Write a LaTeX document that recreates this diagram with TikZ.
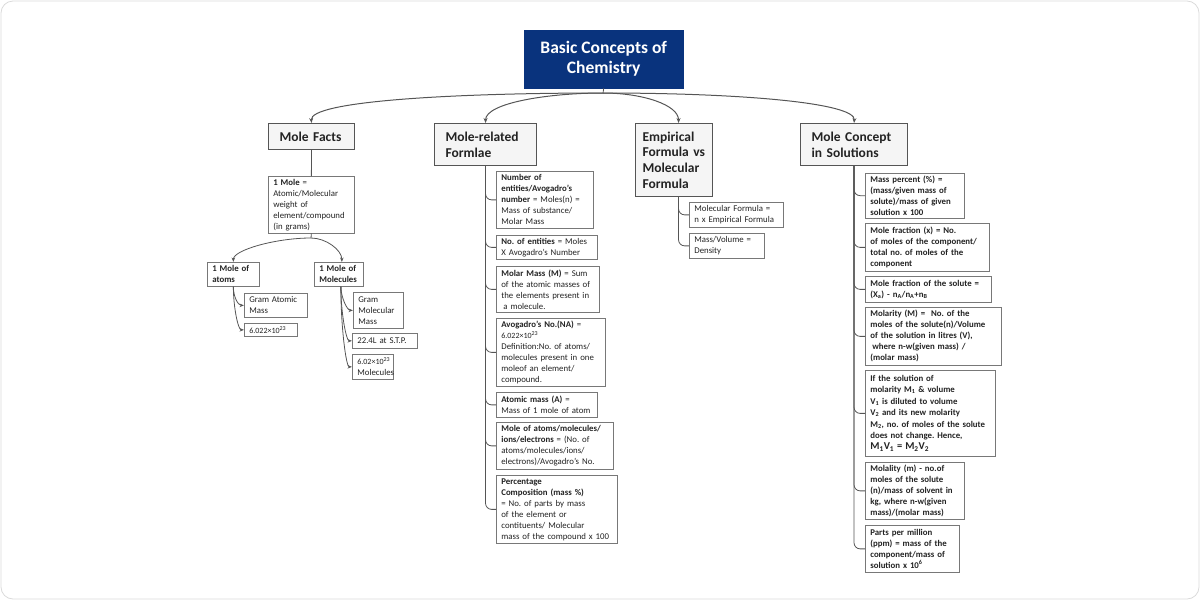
\documentclass[tikz,border=0pt]{standalone}
\usepackage{fontspec}
\setmainfont{Carlito}
\usepackage{tikz}
\usetikzlibrary{
	arrows.meta,
	positioning
}
\definecolor{TitleBlue}{RGB}{9,51,125}
\definecolor{LineGray}{RGB}{85,85,85}
\definecolor{LeafGray}{RGB}{120,120,120}
\definecolor{HeadFill}{RGB}{245,245,245}
\definecolor{TextGray}{RGB}{35,35,35}
\definecolor{FrameGray}{RGB}{218,218,218}

\tikzset{
	title/.style={draw=TitleBlue, fill=TitleBlue, text=white, align=center, anchor=north west,
		font=\fontsize{17.5}{20}\selectfont\bfseries, minimum width=159pt, minimum height=58pt},
	head/.style={draw=LineGray, fill=HeadFill, text=TextGray, line width=1.1pt, align=left,
		anchor=north west, inner xsep=11pt, inner ysep=4pt, font=\fontsize{13.5}{15.7}\selectfont\bfseries},
	leaf/.style={draw=LeafGray, fill=white, text=TextGray, line width=0.7pt, align=left,
		anchor=north west, inner xsep=5pt, inner ysep=2.5pt, font=\fontsize{8.8}{11}\selectfont},
	boldleaf/.style={leaf, font=\fontsize{8.8}{11}\selectfont\bfseries},
	link/.style={draw=LineGray, line width=0.8pt},
	arr/.style={link, -{Stealth[length=4.5pt,width=3.5pt]}},
	bigarr/.style={draw=LineGray, line width=1pt, -{Stealth[length=5pt,width=4pt]}}
}
\newcommand{\smallnum}{\fontsize{8}{11}\selectfont}
\frenchspacing

\begin{document}
\begin{tikzpicture}[x=1pt,y=-1pt]
	\useasboundingbox (0,0) rectangle (1200,600);
	\draw[FrameGray, line width=0.8pt, rounded corners=12pt] (1,1) rectangle (1199,599);

	\node[title] (root) at (524,30) {Basic Concepts of\\Chemistry};

	\node[head, text width=64pt, minimum height=26pt] (mf) at (268,123) {Mole Facts};
	\node[head, text width=80pt, minimum height=42pt] (mr) at (434,123) {Mole-related\\Formlae};
	\node[head, text width=63pt, inner xsep=7pt, minimum height=73pt] (em) at (635,123) {Empirical\\Formula vs\\Molecular\\Formula};
	\node[head, text width=85pt, minimum height=42pt] (ms) at (800,123) {Mole Concept\\in Solutions};

	\coordinate (rj) at (603,93);
	\draw[link] (root.south) -- (rj);
	\draw[bigarr] (rj) to[out=180,in=95,out distance=150pt,in distance=22pt] (mf.north);
	\draw[bigarr] (rj) to[out=180,in=90,out distance=55pt,in distance=20pt] (mr.north);
	\draw[bigarr] (rj) to[out=0,in=90,out distance=40pt,in distance=18pt] ([xshift=4.5pt]em.north);
	\draw[bigarr] (rj) to[out=0,in=85,out distance=140pt,in distance=20pt] (ms.north);

	% Mole Facts
	\node[leaf, text width=76pt, minimum height=57pt] (om) at (268,176)
		{\textbf{1 Mole} =\\Atomic/Molecular\\weight of\\element/compound\\(in grams)};
	\node[boldleaf, text width=42pt, minimum height=24pt] (at) at (207,262) {1 Mole of\\atoms};
	\node[boldleaf, text width=39pt, minimum height=24pt] (mo) at (314,262) {1 Mole of\\Molecules};
	\node[leaf, text width=53pt, minimum height=24pt] (gam) at (244,293) {Gram Atomic\\Mass};
	\node[leaf, text width=43pt, minimum height=13pt, inner ysep=1pt] (naA) at (244,323) {\smallnum 6.022×10\textsuperscript{23}};
	\node[leaf, text width=40pt, minimum height=36pt] (gmm) at (353,292) {Gram\\Molecular\\Mass};
	\node[leaf, text width=55pt, minimum height=15pt, inner ysep=1pt] (stp) at (352,333) {22.4L at S.T.P.};
	\node[leaf, text width=31pt, minimum height=25pt, inner ysep=1pt] (naM) at (352,354) {{\smallnum 6.02×10\textsuperscript{23}}\\Molecules};

	\coordinate (oj) at (311,238);
	\draw[link] (mf.south) -- (om.north);
	\draw[link] (om.south) -- (oj);
	\draw[arr] (oj) to[out=180,in=90,out distance=35pt,in distance=12pt] (at.north);
	\draw[arr] (oj) to[out=0,in=90,out distance=15pt,in distance=12pt] ([xshift=3pt]mo.north);
	\draw[arr] (at.south) to[out=-90,in=180,out distance=10pt,in distance=6pt] (gam.west);
	\draw[arr] (at.south) to[out=-90,in=180,out distance=20pt,in distance=6pt] (naA.west);
	\draw[arr] ([xshift=2pt]mo.south) to[out=-90,in=180,out distance=10pt,in distance=6pt] (gmm.west);
	\draw[arr] ([xshift=2pt]mo.south) to[out=-90,in=180,out distance=25pt,in distance=6pt] (stp.west);
	\draw[arr] ([xshift=2pt]mo.south) to[out=-90,in=180,out distance=40pt,in distance=6pt] (naM.west);

	% Mole-related Formlae
	\node[leaf, text width=87pt, minimum height=57pt] (c1) at (496,171)
		{\textbf{Number of}\\\textbf{entities/Avogadro's}\\\textbf{number} = Moles(n) =\\Mass of substance/\\Molar Mass};
	\node[leaf, text width=91pt, minimum height=24pt] (c2) at (496,235)
		{\textbf{No. of entities} = Moles\\X Avogadro's Number};
	\node[leaf, text width=93pt, minimum height=46pt] (c3) at (496,266)
		{\textbf{Molar Mass (M)} = Sum\\of the atomic masses of\\the elements present in\\\hspace*{2pt}a molecule.};
	\node[leaf, text width=99pt, minimum height=68pt] (c4) at (496,318)
		{\textbf{Avogadro's No.(NA)} =\\{\smallnum 6.022×10\textsuperscript{23}}\\Definition:No. of atoms/\\molecules present in one\\moleof an element/\\compound.};
	\node[leaf, text width=91pt, minimum height=25pt] (c5) at (496,392)
		{\textbf{Atomic mass (A)} =\\Mass of 1 mole of atom};
	\node[leaf, text width=107pt, minimum height=47pt] (c6) at (496,422)
		{\textbf{Mole of atoms/molecules/}\\\textbf{ions/electrons} = (No. of\\atoms/molecules/ions/\\electrons)/Avogadro's No.};
	\node[leaf, text width=111pt, minimum height=68pt] (c7) at (496,475)
		{\textbf{Percentage}\\\textbf{Composition (mass \%)}\\= No. of parts by mass\\of the element or\\contituents/ Molecular\\mass of the compound x 100};

	\foreach \c in {c1,c2,c3,c4,c5,c6,c7}
		\draw[link, rounded corners=6pt] (mr.south) |- (\c.west);

	% Empirical Formula vs Molecular Formula
	\node[leaf, text width=84pt, minimum height=25pt] (e1) at (689,202)
		{Molecular Formula =\\n x Empirical Formula};
	\node[leaf, text width=65pt, minimum height=25pt] (e2) at (689,233)
		{Mass/Volume =\\Density};

	\foreach \e in {e1,e2}
		\draw[link, rounded corners=6pt] ([xshift=4.5pt]em.south) |- (\e.west);

	% Mole Concept in Solutions
	\node[boldleaf, text width=89pt, minimum height=44pt] (s1) at (865,173)
		{Mass percent (\%) =\\(mass/given mass of\\solute)/mass of given\\solution x 100};
	\node[boldleaf, text width=114pt, minimum height=48pt] (s2) at (865,223)
		{Mole fraction (x) = No.\\of moles of the component/\\total no. of moles of the\\component};
	\node[boldleaf, text width=116pt, minimum height=26pt] (s3) at (865,276)
		{Mole fraction of the solute =\\(X\textsubscript{a}) - n\textsubscript{A}/n\textsubscript{A}+n\textsubscript{B}};
	\node[boldleaf, text width=126pt, minimum height=58pt] (s4) at (865,307)
		{Molarity (M) =\ \ No. of the\\moles of the solute(n)/Volume\\of the solution in litres (V),\\\hspace*{2pt}where n-w(given mass) /\\(molar mass)};
	\node[boldleaf, text width=120pt, minimum height=86pt, font=\fontsize{8.8}{11.4}\selectfont\bfseries] (s5) at (865,370)
		{If the solution of\\molarity M\textsubscript{1} \& volume\\V\textsubscript{1} is diluted to volume\\V\textsubscript{2} and its new molarity\\M\textsubscript{2}, no. of moles of the solute\\does not change. Hence,\\{\fontsize{10.5}{12}\selectfont M\textsubscript{1}V\textsubscript{1} = M\textsubscript{2}V\textsubscript{2}}};
	\node[boldleaf, text width=89pt, minimum height=57pt] (s6) at (865,462)
		{Molality (m) - no.of\\moles of the solute\\(n)/mass of solvent in\\kg, where n-w(given\\mass)/(molar mass)};
	\node[boldleaf, text width=84pt, minimum height=47pt] (s7) at (865,525)
		{Parts per million\\(ppm) = mass of the\\component/mass of\\solution x 10\textsuperscript{6}};

	\foreach \s in {s1,s2,s3,s4,s5,s6,s7}
		\draw[link, rounded corners=6pt] (ms.south) |- (\s.west);
\end{tikzpicture}
\end{document}
